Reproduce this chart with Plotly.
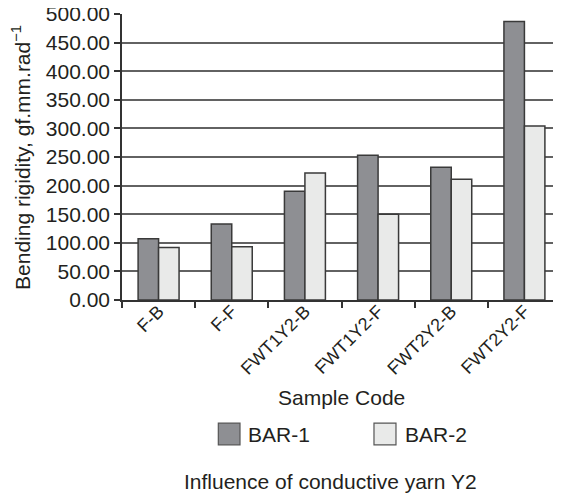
import plotly.graph_objects as go

categories = ["F-B", "F-F", "FWT1Y2-B", "FWT1Y2-F", "FWT2Y2-B", "FWT2Y2-F"]
bar1_values = [107, 133, 190, 253, 232, 487]
bar2_values = [92, 93, 222, 150, 211, 304]
series_names = ["BAR-1", "BAR-2"]
y_ticks = [0, 50, 100, 150, 200, 250, 300, 350, 400, 450, 500]

FONT = "Liberation Sans, Arial, Helvetica, sans-serif"
TXT = "#231f20"
C1 = "#8e8f93"
C2 = "#e9eae9"

fig = go.Figure()
fig.add_trace(go.Bar(x=categories, y=bar1_values, name=series_names[0],
                     marker=dict(color=C1, line=dict(color="#3a3a3a", width=1.5)),
                     showlegend=False))
fig.add_trace(go.Bar(x=categories, y=bar2_values, name=series_names[1],
                     marker=dict(color=C2, line=dict(color="#3a3a3a", width=1.5)),
                     showlegend=False))

# page body adds an 8px offset, so the figure is 8px smaller on each axis
fig.update_layout(
    width=553, height=488,
    margin=dict(l=114, r=0, t=6, b=196, autoexpand=False),
    paper_bgcolor="white", plot_bgcolor="white",
    barmode="group", bargap=0.44, bargroupgap=0,
    font=dict(family=FONT, color=TXT, size=20),
)
fig.update_yaxes(
    range=[0, 500], tickvals=y_ticks, tickformat=".2f", automargin=False,
    ticklabeloverflow="allow",
    showgrid=True, gridcolor="#626262", gridwidth=1.5,
    showline=True, linecolor="#333333", linewidth=1.5,
    ticks="outside", ticklen=6, tickcolor="#333333", tickwidth=1.5,
    tickfont=dict(size=21, color=TXT), zeroline=False,
)
fig.update_xaxes(
    automargin=False, ticklabeloverflow="allow", ticklabelstandoff=-8,
    showline=True, linecolor="#333333", linewidth=1.5,
    ticks="outside", tickson="boundaries", ticklen=6, tickcolor="#333333", tickwidth=1.5,
    tickangle=-45, tickfont=dict(size=18, color=TXT), showgrid=False,
)

annotations = [
    dict(text="Bending rigidity, gf.mm.rad<sup>\u22121</sup>", x=-0.2301, y=0.5,
         xref="paper", yref="paper", textangle=-90, showarrow=False,
         xanchor="center", yanchor="middle", font=dict(size=21)),
    dict(text="Sample Code", x=0.499, y=-0.34, xref="paper", yref="paper",
         showarrow=False, xanchor="center", yanchor="middle", font=dict(size=21)),
    dict(text="Influence of conductive yarn Y2", x=0.476, y=-0.635, xref="paper", yref="paper",
         showarrow=False, xanchor="center", yanchor="middle", font=dict(size=21)),
    dict(text=series_names[0], x=0.2825, y=-0.4707, xref="paper", yref="paper",
         showarrow=False, xanchor="left", yanchor="middle", font=dict(size=21)),
    dict(text=series_names[1], x=0.6394, y=-0.4707, xref="paper", yref="paper",
         showarrow=False, xanchor="left", yanchor="middle", font=dict(size=21)),
]
shapes = [
    dict(type="rect", xref="paper", yref="paper", x0=0.2194, x1=0.2688, y0=-0.5063, y1=-0.4305,
         fillcolor=C1, line=dict(color="#555555", width=1.2)),
    dict(type="rect", xref="paper", yref="paper", x0=0.574, x1=0.6241, y0=-0.5063, y1=-0.4305,
         fillcolor=C2, line=dict(color="#555555", width=1.2)),
]
fig.update_layout(annotations=annotations, shapes=shapes)

fig.write_html("out.html")
